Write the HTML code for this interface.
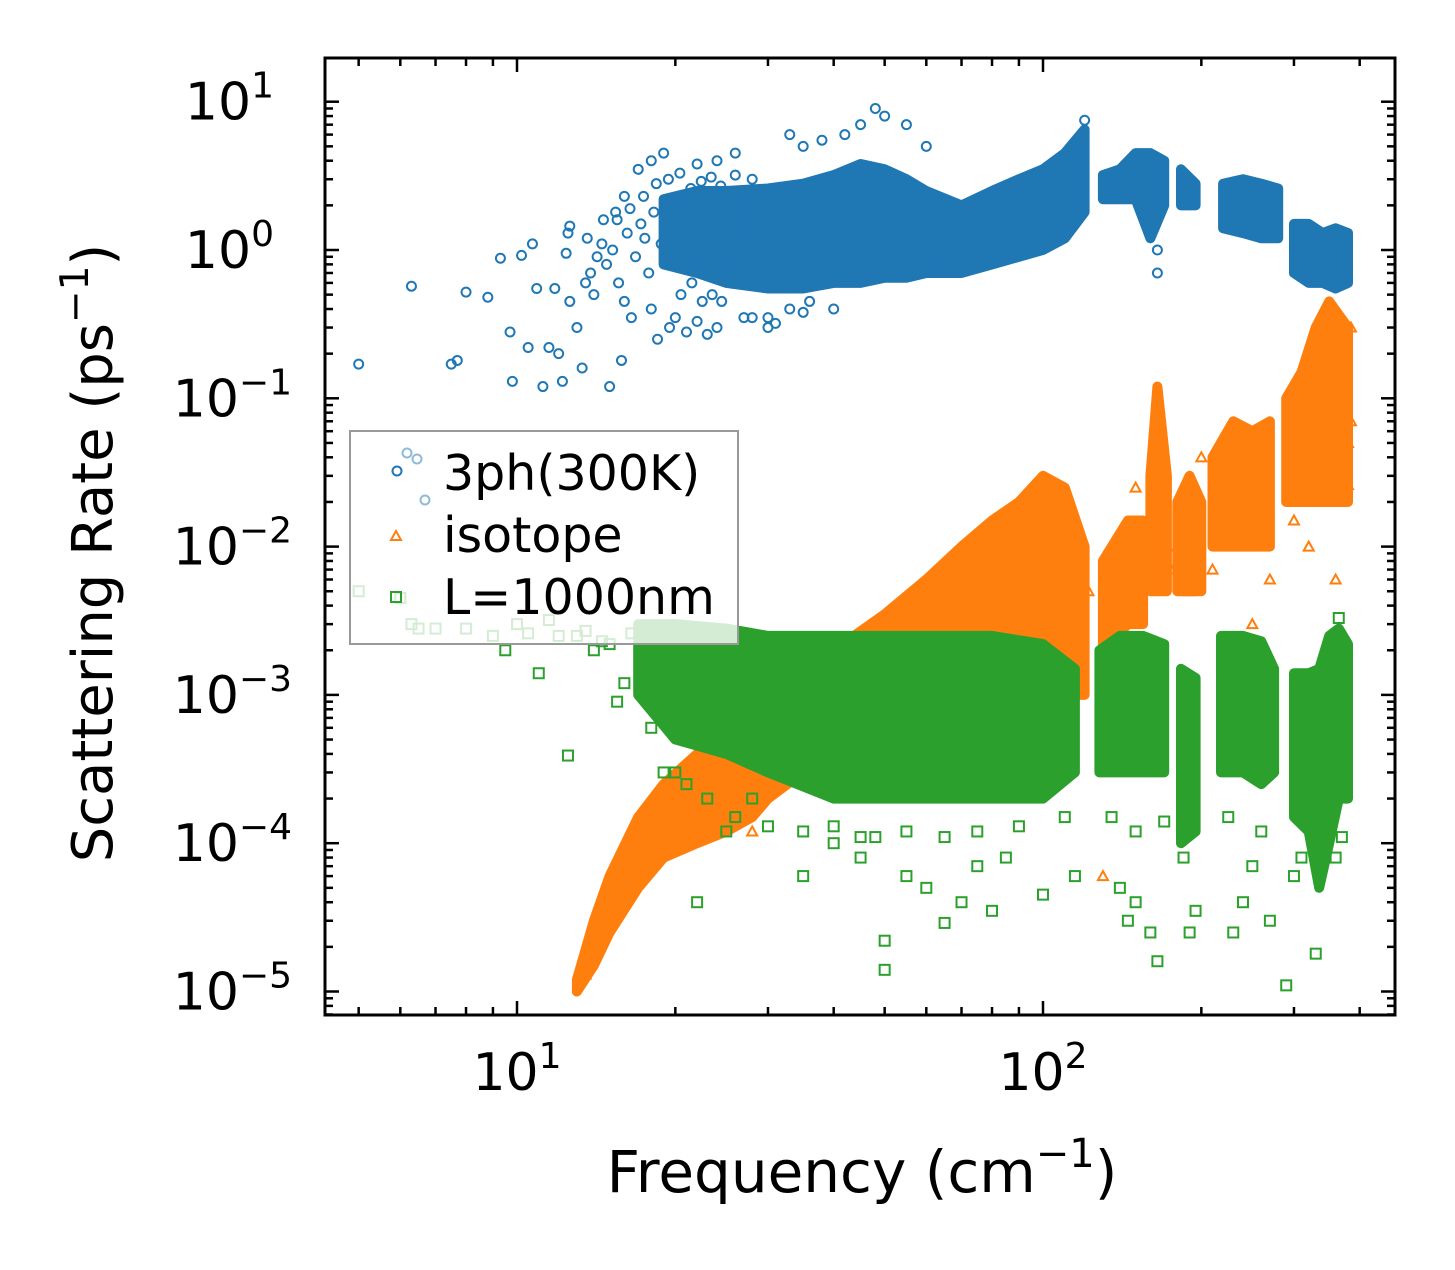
<!DOCTYPE html>
<html><head><meta charset="utf-8"><style>
body{margin:0;background:#fff;}
svg text{font-family:"DejaVu Sans","Liberation Sans",sans-serif;fill:#000;}
</style></head><body>
<svg id="chart" width="1455" height="1265" viewBox="0 0 1455 1265" xmlns="http://www.w3.org/2000/svg">
<rect width="1455" height="1265" fill="#fff"/>
<g id="marks"></g>
<g id="axes"></g>
</svg>
<script>
// ---- data ----
const blueBandX  = [19,22,25,30,35,40,45,50,55,60,70,80,90,100,110,120, null, 130,140,150,160,170, null, 183,195, null, 220,240,260,280, null, 300,320,340,360,380];
const blueBandHi = [2.2,2.5,2.5,2.6,2.8,3.2,3.8,3.5,3,2.5,2,2.5,3,3.5,4.5,6.5, null, 3.2,3.5,4.5,4.5,4, null, 3.5,2.8, null, 2.8,3,2.8,2.6, null, 1.5,1.5,1.3,1.4,1.3];
const blueBandLo = [0.8,0.7,0.6,0.55,0.55,0.6,0.6,0.65,0.65,0.7,0.7,0.8,0.9,1.0,1.2,1.8, null, 2.2,2.2,2.2,1.2,2, null, 2,2, null, 1.4,1.3,1.2,1.2, null, 0.7,0.6,0.6,0.55,0.6];
const blueX = [5,6.3,7.5,7.7,8,8.8,9.3,9.7,9.8,10.2,10.5,10.7,10.9,11.2,11.5,11.8,12,12.2,12.4,12.5,12.6,12.6,13,13.3,13.5,14,14.5,15,15.5,15.8,16,16.5,17,17.5,18,18.5,19,19.5,20,21,22,23,24,25,26,27,28,33,35,38,42,45,48,50,55,60,65,120,165,165,35,40,30,
  13.8,14.2,14.8,15.2,15.6,16.2,16.8,17.2,17.8,18.2,18.8,19.2,19.8,20.5,21.5,22.5,23.5,24.5,13.6,14.6,15.4,16.4,17.4,18.4,19.4,20.4,21.4,22.4,23.4,24.4,26,28,31,16,18,20,22,24,27,30,33,36];
const blueY = [0.17,0.57,0.17,0.18,0.52,0.48,0.88,0.28,0.13,0.92,0.22,1.1,0.55,0.12,0.22,0.55,0.2,0.13,0.95,1.3,1.45,0.45,0.3,0.16,0.6,0.5,1.1,0.12,1.6,0.18,2.3,0.35,3.5,1.2,4,0.25,4.5,0.3,2.2,0.28,3.8,0.27,4,0.8,4.5,1.5,3,6,5,5.5,6,7,9,8,7,5,0.8,7.5,1.0,0.7,0.38,0.4,0.35,
  0.7,0.9,0.8,1.0,0.6,1.3,0.9,1.5,0.7,1.8,1.1,2.0,1.3,0.5,0.6,0.45,0.5,0.45,1.2,1.6,1.8,1.9,2.3,2.8,3.0,3.3,2.6,2.9,3.1,2.7,3.2,0.35,0.32,0.45,0.4,0.35,0.33,0.3,0.35,0.3,0.4,0.45];

const orgBandX  = [13,14,15,17,19,22,25,28,30,35,40,50,60,70,80,90,100,110,120, null, 130,145,155, null, 160,165,172, null, 180,190,200, null, 210,230,250,270, null, 290,310,330,350,380];
const orgBandHi = [1.2e-5,3e-5,6e-5,1.5e-4,2.5e-4,4e-4,5e-4,6e-4,1e-3,1.5e-3,2e-3,3.5e-3,6e-3,1e-2,1.5e-2,2e-2,3e-2,2.5e-2,1e-2, null, 8e-3,1.5e-2,1.5e-2, null, 3e-2,0.12,3e-2, null, 2e-2,3e-2,2e-2, null, 4e-2,7e-2,6e-2,7e-2, null, 0.1,0.15,0.3,0.45,0.3];
const orgBandLo = [1e-5,1.5e-5,2.5e-5,5e-5,8e-5,1e-4,1.2e-4,1.5e-4,2e-4,3e-4,4e-4,6e-4,8e-4,1e-3,1e-3,1e-3,1e-3,1e-3,1e-3, null, 2e-3,3e-3,3e-3, null, 5e-3,5e-3,5e-3, null, 5e-3,5e-3,5e-3, null, 1e-2,1e-2,1e-2,1e-2, null, 2e-2,2e-2,2e-2,2e-2,2e-2];
const orgX = [28,122,130,140,150,165,175,190,210,250,270,300,310,320,360,380,380,385,385,245,180,200,13.5,14.5,16,18,20];
const orgY = [1.2e-4,5e-3,6e-5,4e-3,2.5e-2,1e-3,7e-3,5e-3,7e-3,3e-3,6e-3,1.5e-2,2.5e-2,1e-2,6e-3,2.6e-2,5e-2,0.07,0.3,8e-4,1e-2,4e-2,1.3e-5,2.5e-5,4e-5,1e-4,1.3e-4];

const grnBandX  = [17,20,25,30,40,50,60,80,100,115, null, 128,140,155,170, null, 183,195, null, 218,240,260,275, null, 300,320,335,350,365,380];
const grnBandHi = [3e-3,3e-3,2.8e-3,2.5e-3,2.5e-3,2.5e-3,2.5e-3,2.5e-3,2.2e-3,1.5e-3, null, 2e-3,2.5e-3,2.5e-3,2.2e-3, null, 1.5e-3,1.3e-3, null, 2.5e-3,2.5e-3,2.3e-3,1.5e-3, null, 1.4e-3,1.4e-3,1.5e-3,2.5e-3,2.8e-3,2.2e-3];
const grnBandLo = [1e-3,5e-4,4e-4,3e-4,2e-4,2e-4,2e-4,2e-4,2e-4,3e-4, null, 3e-4,3e-4,3e-4,3e-4, null, 1e-4,1.2e-4, null, 3e-4,3e-4,2.5e-4,3e-4, null, 1.5e-4,1.2e-4,5e-5,1e-4,2e-4,2e-4];
const grnX = [5,6,6.5,6.3,7,8,9,9.5,10,10.5,11,11.5,12,12.5,13,14,15,15.5,16,18,20,22,25,28,35,40,45,48,50,50,55,60,65,70,75,80,85,100,115,140,145,150,160,165,190,195,230,240,250,270,290,300,330,360,365,370,13.5,14.5,16.5,
  19,21,23,26,30,35,40,45,55,65,75,90,110,135,150,170,185,225,260,310,350];
const grnY = [5e-3,4.5e-3,2.8e-3,3e-3,2.8e-3,2.8e-3,2.5e-3,2e-3,3e-3,2.6e-3,1.4e-3,3.2e-3,2.5e-3,3.9e-4,2.5e-3,2e-3,2.2e-3,9e-4,1.2e-3,6e-4,3e-4,4e-5,1.2e-4,2e-4,6e-5,1e-4,8e-5,1.1e-4,2.2e-5,1.4e-5,6e-5,5e-5,2.9e-5,4e-5,7e-5,3.5e-5,8e-5,4.5e-5,6e-5,5e-5,3e-5,4e-5,2.5e-5,1.6e-5,2.5e-5,3.5e-5,2.5e-5,4e-5,7e-5,3e-5,1.1e-5,6e-5,1.8e-5,8e-5,3.3e-3,1.1e-4,2.7e-3,2.3e-3,2.6e-3,
  3e-4,2.5e-4,2e-4,1.5e-4,1.3e-4,1.2e-4,1.3e-4,1.1e-4,1.2e-4,1.1e-4,1.2e-4,1.3e-4,1.5e-4,1.5e-4,1.2e-4,1.4e-4,8e-5,1.5e-4,1.2e-4,8e-5,1.2e-4];

const xTicks = [1,2];
const yTicks = [1,0,-1,-2,-3,-4,-5];

// ---- axes ----
const L=325,R=1395,T=58,B=1015;
const X = f => 517 + 526*(Math.log10(f)-1);
const Y = v => 250 - 148.3*Math.log10(v);
const NS="http://www.w3.org/2000/svg";
const marks=document.getElementById('marks'), axes=document.getElementById('axes');
function mk(tag,attrs,parent){const e=document.createElementNS(NS,tag);for(const k in attrs)e.setAttribute(k,attrs[k]);parent.appendChild(e);return e;}

function band(xs,hi,lo,color,name){
  let segs=[],cur=[];
  xs.forEach((x,i)=>{ if(x===null){segs.push(cur);cur=[];} else cur.push(i); });
  segs.push(cur);
  segs.forEach(s=>{
    let d='';
    s.forEach((i,k)=>{d+=(k?'L':'M')+X(xs[i]).toFixed(1)+','+Y(hi[i]).toFixed(1);});
    s.slice().reverse().forEach(i=>{d+='L'+X(xs[i]).toFixed(1)+','+Y(lo[i]).toFixed(1);});
    const p=mk('path',{d:d+'Z',fill:color,stroke:color,'stroke-width':10,'stroke-linejoin':'round'},marks);
    
    
  });
}
function pts(xs,ys,color,shape,name){
  xs.forEach((f,i)=>{
    const cx=X(f),cy=Y(ys[i]);let e;
    if(shape==='c') e=mk('circle',{cx:cx,cy:cy,r:4.5,fill:'none',stroke:color,'stroke-width':2},marks);
    else if(shape==='t') e=mk('polygon',{points:`${cx},${cy-5} ${cx-5},${cy+4} ${cx+5},${cy+4}`,fill:'none',stroke:color,'stroke-width':2},marks);
    else e=mk('rect',{x:cx-5,y:cy-5,width:10,height:10,fill:'none',stroke:color,'stroke-width':2},marks);
    
    
  });
}
band(blueBandX,blueBandHi,blueBandLo,'#1f77b4','band-3ph');
pts(blueX,blueY,'#1f77b4','c','point-3ph');
band(orgBandX,orgBandHi,orgBandLo,'#ff7f0e','band-isotope');
pts(orgX,orgY,'#ff7f0e','t','point-isotope');
band(grnBandX,grnBandHi,grnBandLo,'#2ca02c','band-boundary');
pts(grnX,grnY,'#2ca02c','s','point-boundary');

const fr=mk('rect',{x:L,y:T,width:R-L,height:B-T,fill:'none',stroke:'#000','stroke-width':3},axes);


for(let d=0;d<=2;d++)for(let m=1;m<10;m++){
  const x=X(m*Math.pow(10,d)); if(x<L||x>R)continue;
  const len=m===1?14:8;
  mk('line',{x1:x,x2:x,y1:B,y2:B-len,stroke:'#000','stroke-width':2.5},axes);
  mk('line',{x1:x,x2:x,y1:T,y2:T+len,stroke:'#000','stroke-width':2.5},axes);
}
for(let d=-6;d<=1;d++)for(let m=1;m<10;m++){
  const y=Y(m*Math.pow(10,d)); if(y<T||y>B)continue;
  const len=m===1?14:8;
  mk('line',{x1:L,x2:L+len,y1:y,y2:y,stroke:'#000','stroke-width':2.5},axes);
  mk('line',{x1:R,x2:R-len,y1:y,y2:y,stroke:'#000','stroke-width':2.5},axes);
}
xTicks.forEach(p=>{
  const t=mk('text',{x:X(Math.pow(10,p)),y:1090,'text-anchor':'middle','font-size':52},axes);
  
  
  t.innerHTML=`10<tspan dy="-22" font-size="36">${p}</tspan>`;
});
yTicks.forEach(p=>{
  const t=mk('text',{x:p<0?292:274,y:Y(Math.pow(10,p))+18,'text-anchor':'end','font-size':52},axes);
  
  
  const s=p<0?'\u2212'+(-p):''+p;
  t.innerHTML=`10<tspan dy="-22" font-size="36">${s}</tspan>`;
});
</script>
<svg style="position:absolute;left:0;top:0" width="1455" height="1265">
<text x="862" y="1192" text-anchor="middle" font-size="58">Frequency (cm<tspan dy="-25" font-size="40">−1</tspan><tspan dy="25">)</tspan></text>
<text transform="translate(112,553) rotate(-90)" text-anchor="middle" font-size="56">Scattering Rate (ps<tspan dy="-24" font-size="39">−1</tspan><tspan dy="24">)</tspan></text>
<g>
<rect x="350" y="431" width="388" height="213" fill="#fff" fill-opacity="0.8" stroke="#999" stroke-width="2"/>
<circle cx="407" cy="453" r="4.5" fill="none" stroke="#1f77b4" stroke-opacity="0.5" stroke-width="2"/>
<circle cx="417" cy="459" r="4.5" fill="none" stroke="#1f77b4" stroke-opacity="0.5" stroke-width="2"/>
<circle cx="397" cy="471" r="4.5" fill="none" stroke="#1f77b4" stroke-width="2"/>
<circle cx="425" cy="500" r="4.5" fill="none" stroke="#1f77b4" stroke-opacity="0.5" stroke-width="2"/>
<text x="443" y="490" font-size="49">3ph(300K)</text>
<polygon points="396,531 391,540 401,540" fill="none" stroke="#ff7f0e" stroke-width="2"/>
<text x="443" y="552" font-size="49">isotope</text>
<rect x="391" y="592" width="10" height="10" fill="none" stroke="#2ca02c" stroke-width="2"/>
<text x="443" y="614" font-size="49">L=1000nm</text>
</g>
</svg>
</body></html>
